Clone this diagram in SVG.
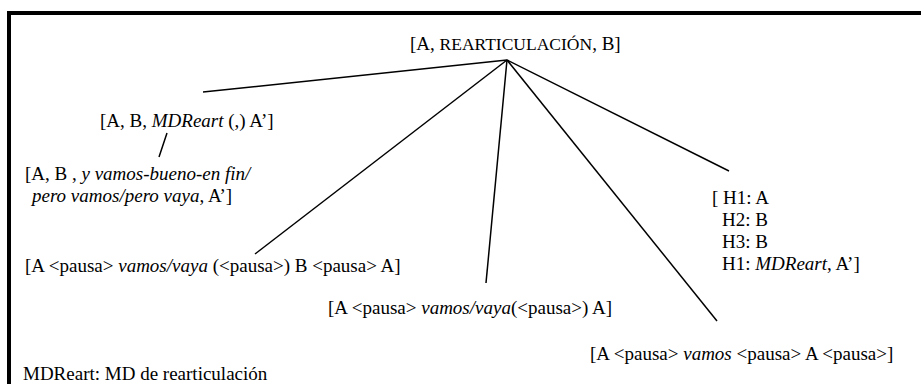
<svg xmlns="http://www.w3.org/2000/svg" width="921" height="384" viewBox="0 0 921 384">
<style>
  text { font-family: "Liberation Serif", "Times New Roman", serif; font-size: 19px; fill: #000; }
  .i { font-style: italic; }
  .sc { font-size: 17.5px; }
  .conn line { stroke: #000; stroke-width: 1.5; fill: none; }
  .frame { stroke: #000; stroke-width: 4; fill: none; }
</style>
<rect width="921" height="384" fill="#fff"/>
<path class="frame" d="M9,384 V13 H921"/>
<g class="conn" id="connectors">
  <line x1="507" y1="60" x2="203" y2="92"/>
  <line x1="507" y1="60" x2="255" y2="254"/>
  <line x1="507" y1="60" x2="486" y2="283"/>
  <line x1="507" y1="60" x2="717" y2="321"/>
  <line x1="507" y1="60" x2="729" y2="171"/>
  <line x1="167" y1="133" x2="159" y2="157"/>
</g>
<g id="root">
  <text x="410" y="50">[A, <tspan class="sc">REARTICULACIÓN</tspan>, B]</text>
</g>
<g id="n-mdreart">
  <text x="100" y="127">[A, B, <tspan class="i">MDReart</tspan> (,) A’]</text>
</g>
<g id="n-yvamos">
  <text x="25" y="180">[A, B , <tspan class="i">y vamos-bueno-en fin/</tspan></text>
  <text x="32" y="202"><tspan class="i">pero vamos/pero vaya</tspan>, A’]</text>
</g>
<g id="n-pausa1">
  <text x="25" y="272">[A &lt;pausa&gt; <tspan class="i">vamos/vaya</tspan> (&lt;pausa&gt;) B &lt;pausa&gt; A]</text>
</g>
<g id="n-pausa2">
  <text x="328" y="314">[A &lt;pausa&gt; <tspan class="i">vamos/vaya</tspan>(&lt;pausa&gt;) A]</text>
</g>
<g id="n-pausa3">
  <text x="590" y="360">[A &lt;pausa&gt; <tspan class="i">vamos</tspan> &lt;pausa&gt; A &lt;pausa&gt;]</text>
</g>
<g id="n-h">
  <text x="712" y="204">[ H1: A</text>
  <text x="722" y="226">H2: B</text>
  <text x="722" y="248">H3: B</text>
  <text x="722" y="270">H1: <tspan class="i">MDReart</tspan>, A’]</text>
</g>
<g id="legend">
  <text x="23" y="380">MDReart: MD de rearticulación</text>
</g>
</svg>
